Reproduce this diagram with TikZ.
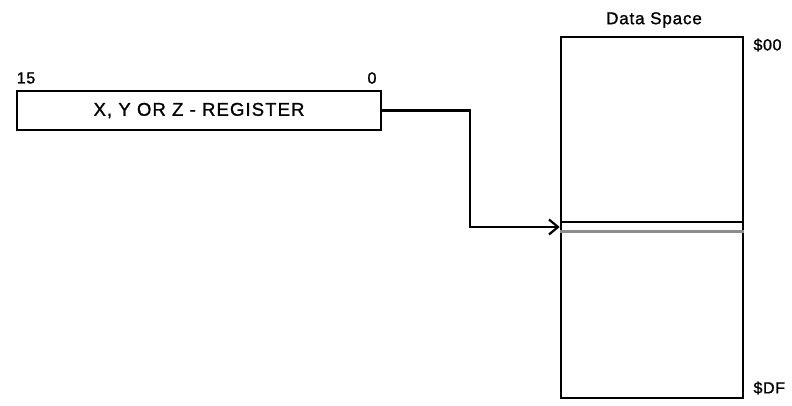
\documentclass[tikz,border=0pt]{standalone}
\usepackage{fontspec}
\setmainfont{Liberation Sans}[FakeBold=1.2]
\usetikzlibrary{arrows.meta,positioning}
\definecolor{slotgray}{RGB}{140,140,140}

\begin{document}
\begin{tikzpicture}[x=1pt,y=-1pt,
    box/.style={draw, line width=2.6pt, rectangle, inner sep=0pt},
    lbl/.style={font=\fontsize{16}{18}\selectfont\addfontfeatures{LetterSpace=4}},
    conn/.style={line width=2.6pt, -{Straight Barb[length=9pt,width=15pt,line width=2.2pt]}}]
            \useasboundingbox (0,0) rectangle (792,406);

            % Register
            \node[box, minimum width=364pt, minimum height=39pt, font=\fontsize{18.5}{20}\selectfont\addfontfeatures{LetterSpace=6}] (reg) at (199,110.5) {X, Y OR Z - REGISTER};
            \node[lbl] (msb) at (26,78) {15};
            \node[lbl] (lsb) at (372,78) {0};

            % Data space
            \node[box, minimum width=182pt, minimum height=361pt] (mem) at (652,217.5) {};
            \node[font=\fontsize{17}{18}\selectfont\addfontfeatures{LetterSpace=5}] (title) at (654,20) {Data Space};
            \node[lbl, anchor=west] (top) at (750,45) {\$00};
            \node[lbl, anchor=west] (bot) at (750,388) {\$DF};

            % Addressed location
            \draw[line width=1.3pt] (mem.west |- 0,222) -- (mem.east |- 0,222);
            \draw[line width=2.2pt, slotgray] (mem.west |- 0,231.5) -- (mem.east |- 0,231.5);

            % Pointer
            \coordinate (bend) at (470,227);
            \coordinate (slot) at (mem.west |- bend);
            \draw[conn] (reg.east) -| (bend) -- (slot);
        \end{tikzpicture}
\end{document}
